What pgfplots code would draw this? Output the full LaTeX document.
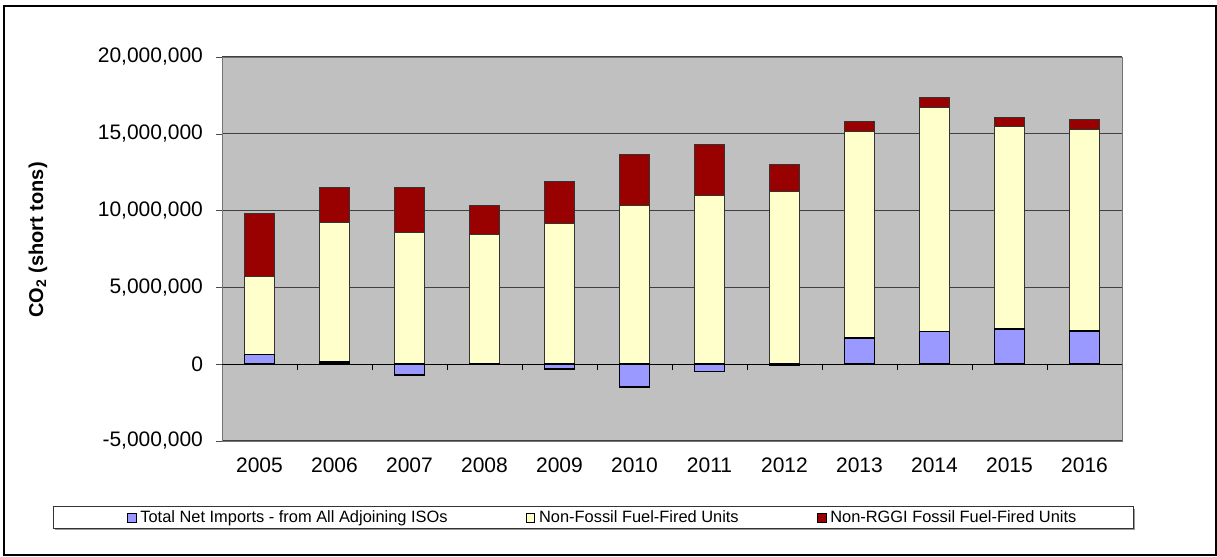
\documentclass[border=0pt]{standalone}
\usepackage{fontspec}
\setmainfont{Liberation Sans}
\usepackage{pgfplots}
\usepackage{pgfplotstable}
\pgfplotsset{compat=1.18}

\definecolor{imp}{HTML}{9999FF}
\definecolor{nonfos}{HTML}{FFFFCC}
\definecolor{nonrggi}{HTML}{990000}
\definecolor{plotbg}{HTML}{C0C0C0}

% tops of each part of the column
\pgfplotstableread{
idx year imports nonfossiltop total
0  2005   630000  5700000  9830000
1  2006   150000  9200000 11520000
2  2007  -720000  8590000 11520000
3  2008    40000  8460000 10330000
4  2009  -330000  9150000 11910000
5  2010 -1500000 10330000 13630000
6  2011  -480000 11000000 14330000
7  2012   -70000 11220000 13020000
8  2013  1700000 15170000 15780000
9  2014  2130000 16740000 17370000
10 2015  2300000 15500000 16070000
11 2016  2170000 15260000 15960000
}\co

\begin{document}
\begin{tikzpicture}
\useasboundingbox (0pt,0pt) rectangle (608.5pt,278.5pt);
\draw[line width=1pt] (2pt,1pt) rectangle (608pt,275.5pt);
\fill[black!40] (27.5pt,13.3pt) rectangle (567.3pt,24pt);
\draw[black!80,fill=white,line width=0.5pt] (26.5pt,14pt) rectangle (566.5pt,25pt);
\node[rotate=90,font=\bfseries\fontsize{10}{12}\selectfont] at (19pt,158.5pt) {CO\textsubscript{2} (short tons)};

\begin{axis}[
  at={(111pt,58pt)}, anchor=south west,
  scale only axis, width=450pt, height=192pt,
  xmin=-0.5, xmax=11.5, ymin=-5000000, ymax=20000000,
  axis background/.style={fill=plotbg},
  axis line style={black!55},
  xtick=data, xticklabels from table={\co}{year},
  xtick style={draw=none},
  ytick={-5000000,0,5000000,10000000,15000000,20000000},
  ytick style={black!70}, ytick pos=left,
  tick align=outside, major tick length=3pt,
  ymajorgrids, grid style={black!75,line width=0.5pt},
  scaled y ticks=false,
  /pgf/number format/.cd, fixed, 1000 sep={,}, assume math mode=true,
  /pgfplots/.cd,
  tick label style={font=\fontsize{10.5}{12}\selectfont},
  xticklabel style={yshift=-2pt},
  yticklabel style={xshift=-3pt},
  legend style={at={(rel axis cs:0.424,-0.2005)}, anchor=center,
    draw=none, fill=none, legend columns=3,
    font=\fontsize{8.2}{9.5}\selectfont,
    /tikz/every even column/.append style={column sep=37pt}},
  legend image code/.code={\draw[#1,draw=black,line width=0.4pt] (0pt,-2.2pt) rectangle (4.4pt,2.2pt);},
]
\addplot[ybar, bar width=15pt, bar shift=0pt, fill=nonrggi, draw=black!80, line width=0.5pt, forget plot]
  table[x=idx,y=total]{\co};
\addplot[ybar, bar width=15pt, bar shift=0pt, fill=nonfos, draw=black!80, line width=0.5pt, forget plot]
  table[x=idx,y=nonfossiltop]{\co};
\addplot[ybar, bar width=15pt, bar shift=0pt, fill=imp, draw=black, line width=0.8pt, forget plot]
  table[x=idx,y=imports]{\co};

\draw[black,line width=0.5pt] (axis cs:-0.5,0) -- (axis cs:11.5,0);
\pgfplotsinvokeforeach{0.5,1.5,2.5,3.5,4.5,5.5,6.5,7.5,8.5,9.5,10.5,11.5}{
  \draw[black,line width=0.5pt] (axis cs:#1,0) -- ++(0pt,-3pt);
}

\addlegendimage{fill=imp}
\addlegendentry{Total Net Imports - from All Adjoining ISOs}
\addlegendimage{fill=nonfos}
\addlegendentry{Non-Fossil Fuel-Fired Units}
\addlegendimage{fill=nonrggi}
\addlegendentry{Non-RGGI Fossil Fuel-Fired Units}
\end{axis}
\end{tikzpicture}
\end{document}
